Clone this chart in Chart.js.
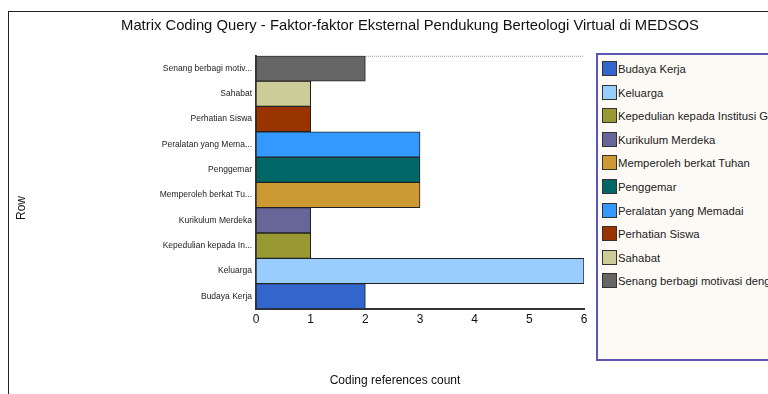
<!DOCTYPE html>
<html>
<head>
<meta charset="utf-8">
<script src="https://cdn.jsdelivr.net/npm/chart.js@4"></script>
<style>
  html, body { margin: 0; padding: 0; background: #fff; }
  body { width: 768px; height: 394px; position: relative; overflow: hidden; font-family: "Liberation Sans", Arial, sans-serif; }
  #caption { position: absolute; left: 240px; top: -24px; font: 22px "Liberation Serif", "Times New Roman", serif; line-height: 22px; white-space: nowrap; color: #000; }
  #frame { position: absolute; left: 8px; top: 11px; width: 800px; height: 400px; border-left: 1px solid #222; border-top: 1px solid #222; }
  #chartBox { position: absolute; left: 0; top: 0; width: 810px; height: 394px; }
  #legend { position: absolute; left: 596px; top: 53px; width: 200px; height: 304px; background: #fdfaf6; border: 2px solid #5b57b8; }
  .item { position: absolute; left: 4px; height: 16px; white-space: nowrap; font-size: 11.3px; color: #222; line-height: 16px; }
  .sw { display: inline-block; width: 13px; height: 13px; border: 1px solid #333; vertical-align: top; margin-right: 1px; }
</style>
</head>
<body>
<div id="caption">Supporting Factors of Virtual Theology</div>
<div id="frame"></div>
<div id="chartBox"><canvas id="matrixChart" width="810" height="394"></canvas></div>
<div id="legend"></div>
<script>
// ---- data ----
const categories = ["Budaya Kerja", "Keluarga", "Kepedulian kepada Institusi Gereja", "Kurikulum Merdeka",
  "Memperoleh berkat Tuhan", "Penggemar", "Peralatan yang Memadai", "Perhatian Siswa", "Sahabat",
  "Senang berbagi motivasi dengan teman"];
const tickLabels = ["Budaya Kerja", "Keluarga", "Kepedulian kepada In...", "Kurikulum Merdeka",
  "Memperoleh berkat Tu...", "Penggemar", "Peralatan yang Mema...", "Perhatian Siswa", "Sahabat",
  "Senang berbagi motiv..."];
const counts = [2, 6, 1, 1, 3, 3, 3, 1, 1, 2];
const colors = ["#3366cc", "#99ccff", "#999933", "#666699", "#cc9933", "#006666", "#3399ff", "#993300", "#cccc99", "#666666"];
const xTicks = [0, 1, 2, 3, 4, 5, 6];

// ---- legend (html box on the right) ----
const legendBox = document.getElementById("legend");
categories.forEach((name, i) => {
  const row = document.createElement("div");
  row.className = "item";
  row.style.top = (6 + i * 23.6) + "px";
  row.innerHTML = '<span class="sw" style="background:' + colors[i] + '"></span>' + name;
  legendBox.appendChild(row);
});

// dotted line along the top of the plot + the two axis captions
const extras = {
  id: "extras",
  beforeDatasetsDraw(chart) {
    const { ctx, chartArea } = chart;
    ctx.save();
    ctx.strokeStyle = "#999";
    ctx.lineWidth = 1;
    ctx.setLineDash([1, 1]);
    ctx.beginPath();
    ctx.moveTo(chartArea.left, chartArea.top + 0.5);
    ctx.lineTo(chartArea.right, chartArea.top + 0.5);
    ctx.stroke();
    ctx.restore();
  },
  afterDraw(chart) {
    const ctx = chart.ctx;
    ctx.save();
    ctx.fillStyle = "#111";
    ctx.font = "12px 'Liberation Sans'";
    ctx.textAlign = "center";
    ctx.textBaseline = "middle";
    ctx.fillText("Coding references count", 395, 381);
    ctx.translate(22, 208);
    ctx.rotate(-Math.PI / 2);
    ctx.fillText("Row", 0, 0);
    ctx.restore();
  },
};

const matrixChart = new Chart(document.getElementById("matrixChart"), {
  type: "bar",
  data: {
    labels: tickLabels,
    datasets: [
      {
        label: "Coding references count",
        data: counts,
        backgroundColor: colors,
        borderColor: "#222",
        borderWidth: 1,
        borderSkipped: false,
        categoryPercentage: 1,
        barPercentage: 1,
      },
    ],
  },
  options: {
    indexAxis: "y",
    responsive: false,
    animation: false,
    layout: {
      padding: { left: 10, right: 0, top: 12, bottom: 4 },
    },
    plugins: {
      legend: { display: false },
      tooltip: { enabled: false },
      title: {
        display: true,
        text: "Matrix Coding Query - Faktor-faktor Eksternal Pendukung Berteologi Virtual di MEDSOS",
        color: "#111",
        font: { family: "Liberation Sans", size: 14.8, weight: "normal" },
        padding: { top: 5, bottom: 21 },
      },
    },
    scales: {
      x: {
        min: 0,
        max: 6,
        afterBuildTicks(scale) {
          scale.ticks = xTicks.map((v) => ({ value: v }));
        },
        afterFit(scale) {
          scale.height = 81;
        },
        grid: { display: false, tickLength: 0 },
        border: { display: true, color: "#333", width: 2 },
        ticks: { color: "#111", font: { family: "Liberation Sans", size: 12 }, padding: 3 },
      },
      y: {
        reverse: true,
        afterFit(scale) {
          scale.width = 246;
        },
        grid: { display: false, tickLength: 0 },
        border: { display: true, color: "#333", width: 2 },
        ticks: { color: "#222", font: { family: "Liberation Sans", size: 8.5 }, padding: 4 },
      },
      // empty right-hand axis that reserves room for the legend box
      side: {
        type: "linear",
        axis: "y",
        position: "right",
        display: true,
        afterFit(scale) {
          scale.width = 226;
        },
        grid: { display: false, drawTicks: false },
        border: { display: false },
        ticks: { display: false },
      },
    },
  },
  plugins: [extras],
});
</script>
</body>
</html>
